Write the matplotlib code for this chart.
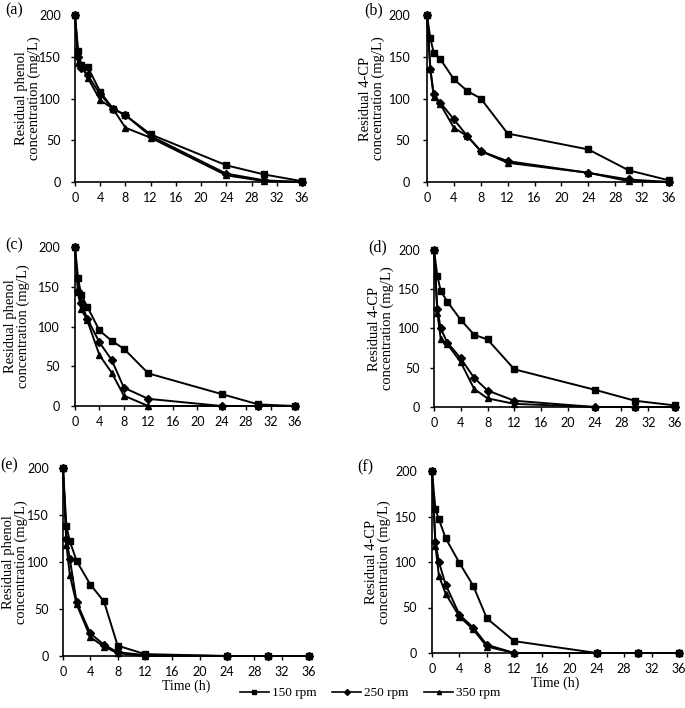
import numpy as np
import matplotlib
matplotlib.use('Agg')
import matplotlib.pyplot as plt
from matplotlib.lines import Line2D

time_h = [0, 0.5, 1, 2, 4, 6, 8, 12, 24, 30, 36]

# (a) phenol
a_150 = [200, 157, 140, 138, 108, 88, 80, 57, 20, 9, 1]
a_250 = [200, 150, 137, 128, 105, 88, 80, 55, 10, 2, 0]
a_350 = [200, 142, 140, 125, 98, 88, 65, 53, 8, 1, 0]
# (b) 4-CP
b_150 = [200, 172, 155, 147, 123, 109, 100, 58, 39, 14, 2]
b_250 = [200, 135, 105, 95, 75, 55, 37, 25, 11, 3, 0]
b_350 = [200, 135, 102, 93, 65, 55, 37, 23, 11, 1, 0]
# (c) phenol
c_150 = [200, 161, 140, 125, 95, 82, 72, 41, 15, 2, 0]
c_250 = [200, 145, 130, 110, 80, 58, 23, 9, 0, 0, 0]
c_350 = [200, 143, 122, 108, 64, 42, 13, 0, 0, 0, 0]
# (d) 4-CP
d_150 = [200, 167, 148, 134, 111, 92, 86, 48, 22, 8, 2]
d_250 = [200, 125, 100, 82, 62, 37, 21, 8, 0, 0, 0]
d_350 = [200, 120, 87, 80, 57, 23, 11, 4, 0, 0, 0]
# (e) phenol
e_150 = [200, 138, 122, 101, 76, 58, 11, 2, 0, 0, 0]
e_250 = [200, 125, 103, 57, 24, 12, 4, 1, 0, 0, 0]
e_350 = [200, 118, 86, 55, 20, 10, 3, 0, 0, 0, 0]
# (f) 4-CP
f_150 = [200, 158, 147, 126, 99, 74, 38, 13, 0, 0, 0]
f_250 = [200, 122, 100, 75, 42, 28, 9, 0, 0, 0, 0]
f_350 = [200, 118, 85, 65, 40, 26, 7, 0, 0, 0, 0]

series_labels = ['150 rpm', '250 rpm', '350 rpm']
markers = ['s', 'D', '^']
panel_tags = ['(a)', '(b)', '(c)', '(d)', '(e)', '(f)']
ylabels = ['Residual phenol\nconcentration (mg/L)', 'Residual 4-CP\nconcentration (mg/L)'] * 3
panel_data = [(a_150, a_250, a_350), (b_150, b_250, b_350), (c_150, c_250, c_350),
              (d_150, d_250, d_350), (e_150, e_250, e_350), (f_150, f_250, f_350)]

W, H = 685, 708
# left, right, top, bottom in pixels
boxes = [(75, 302, 15, 182), (427, 669, 15, 182),
         (75, 295, 247, 406), (434, 675, 250, 407),
         (63, 309, 468, 656), (432, 679, 471, 653)]
label_offset = [-47, -55, -58, -53, -48, -54]   # px from y axis to label centre
tick_pad = [7, 9, 8, 7, 7, 8]
tag_pos = [(5, 10), (364, 10), (5, 245), (368, 247), (0, 465), (357, 467)]

serif = 'Liberation Serif'
tickfont = 'Lato'

fig = plt.figure(figsize=(W / 100, H / 100), dpi=100)

for i, (l, r, t, b) in enumerate(boxes):
    ax = fig.add_axes([l / W, 1 - b / H, (r - l) / W, (b - t) / H])
    for vals, mk in zip(panel_data[i], markers):
        ax.plot(time_h, vals, color='black', lw=1.4, marker=mk,
                markersize=5 if mk == 's' else 4.5, clip_on=False, zorder=3)
    ax.set_xlim(0, 36)
    ax.set_ylim(0, 200)
    ax.set_xticks(range(0, 37, 4))
    ax.set_yticks(range(0, 201, 50))
    for s in ['top', 'right']:
        ax.spines[s].set_visible(False)
    for s in ['left', 'bottom']:
        ax.spines[s].set_linewidth(1.2)
    ax.tick_params(direction='out', length=3, width=1, labelsize=9)
    ax.tick_params(axis='y', pad=tick_pad[i])
    ax.tick_params(axis='x', pad=4)
    for lab in ax.get_xticklabels() + ax.get_yticklabels():
        lab.set_fontfamily(tickfont)
    ax.set_ylabel(ylabels[i], fontfamily=serif, fontsize=10.5, linespacing=0.95)
    ax.yaxis.label.set_va('center')
    ax.yaxis.set_label_coords(label_offset[i] / (r - l), 0.5)
    if i >= 4:
        ax.set_xlabel('Time (h)', fontfamily=serif, fontsize=10, labelpad=1)
    fig.text(tag_pos[i][0] / W, 1 - tag_pos[i][1] / H, panel_tags[i],
             fontfamily=serif, fontsize=11.5, va='center', ha='left')

handles = [Line2D([], [], color='black', lw=1.2, marker=mk, markersize=3) for mk in markers]
fig.legend(handles, series_labels, loc='center', bbox_to_anchor=(370 / W, 1 - 693 / H),
           ncol=3, frameon=False, prop={'family': serif, 'size': 9.5},
           handlelength=2.2, handletextpad=0.2, columnspacing=1.2)

fig.savefig('out.png', dpi=100)
